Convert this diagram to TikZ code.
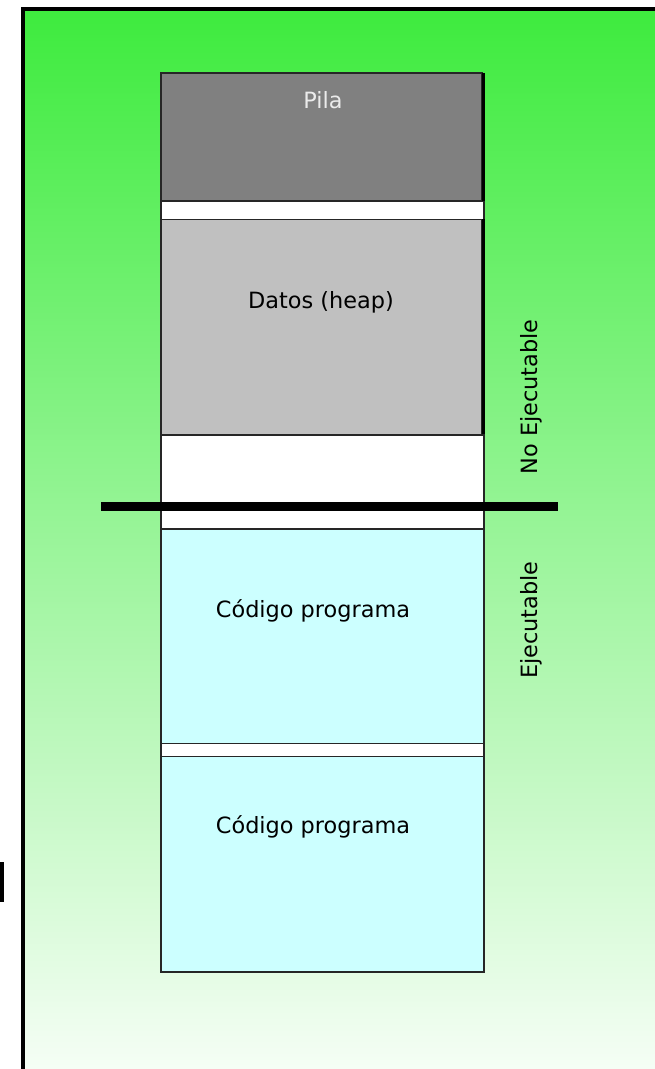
\documentclass[tikz,border=0pt]{standalone}
\usepackage{fontspec}
\setmainfont{DejaVu Sans}
\definecolor{verdearriba}{RGB}{62,235,62}
\definecolor{verdeabajo}{RGB}{248,254,248}
\definecolor{grispila}{RGB}{128,128,128}
\definecolor{grisdatos}{RGB}{192,192,192}
\definecolor{celeste}{RGB}{204,255,255}
\tikzset{
  bloque/.style={draw=black!85,line width=1.4pt},
  etiqueta/.style={inner sep=0.75pt,font=\fontsize{16.8}{20}\selectfont},
}
\begin{document}
\begin{tikzpicture}[x=0.75pt,y=0.75pt,yscale=-1]
\useasboundingbox (0,0) rectangle (655,1069);
\clip (0,0) rectangle (655,1069);

%Shape: Rectangle [fondo]
\shade [top color=verdearriba,bottom color=verdeabajo] (23,9) rectangle (670,1085);
\draw [line width=2.4]  (23,1085) -- (23,9) -- (670,9) ;
%Shape: Rectangle [marca]
\fill [black] (0,862) rectangle (3.5,902);

%Shape: Rectangle [pila]
\draw [bloque,fill=grispila]  (161,73) -- (482,73) -- (482,201) -- (161,201) -- cycle ;
%Shape: Rectangle [hueco1]
\draw [bloque,fill=white]  (161,201) -- (484,201) -- (484,219.5) -- (161,219.5) -- cycle ;
%Shape: Rectangle [datos]
\draw [bloque,fill=grisdatos]  (161,219.5) -- (482,219.5) -- (482,435) -- (161,435) -- cycle ;
%Straight Lines [sombra]
\draw [line width=2.25]  (483.5,73) -- (483.5,201) ;
\draw [line width=2.25]  (483.5,219.5) -- (483.5,435) ;
%Shape: Rectangle [libre]
\draw [bloque,fill=white]  (161,435) -- (484,435) -- (484,529) -- (161,529) -- cycle ;
%Shape: Rectangle [codigo1]
\draw [bloque,fill=celeste]  (161,529) -- (484,529) -- (484,743.5) -- (161,743.5) -- cycle ;
%Shape: Rectangle [hueco2]
\draw [bloque,fill=white]  (161,743.5) -- (484,743.5) -- (484,756.5) -- (161,756.5) -- cycle ;
%Shape: Rectangle [codigo2]
\draw [bloque,fill=celeste]  (161,756.5) -- (484,756.5) -- (484,972) -- (161,972) -- cycle ;

%Straight Lines [limite]
\draw [line width=6.5]  (101,506.5) -- (558,506.5) ;

% Text Node
\node [etiqueta,text=black!8] (pila) at (323,100) {Pila};
% Text Node
\node [etiqueta] (datos) at (321,302) {Datos (heap)};
% Text Node
\node [etiqueta] (codigo1) at (313,611) {Código programa};
% Text Node
\node [etiqueta] (codigo2) at (313,827) {Código programa};
% Text Node
\node [etiqueta,rotate=90] (noejec) at (531,397) {No Ejecutable};
% Text Node
\node [etiqueta,rotate=90] (ejec) at (531,620) {Ejecutable};

\end{tikzpicture}
\end{document}
